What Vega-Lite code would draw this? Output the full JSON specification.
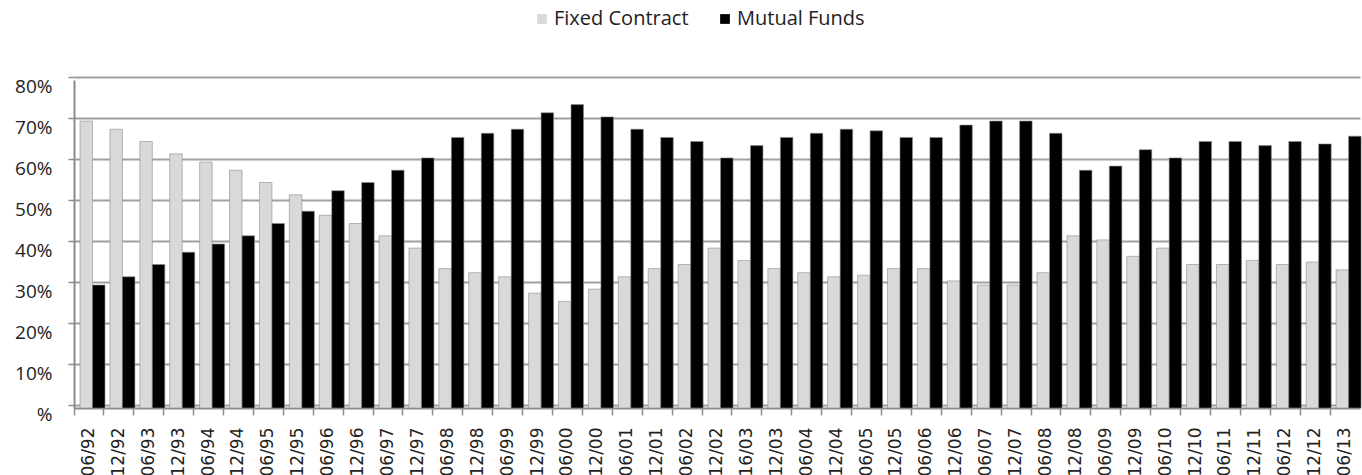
{
  "$schema": "https://vega.github.io/schema/vega-lite/v6.json",
  "autosize": {"type": "none"},
  "width": 1286,
  "height": 328,
  "padding": {"left": 74, "top": 80, "right": 2, "bottom": 67},
  "background": "white",
  "config": {"view": {"stroke": null}},
  "data": {"values": [
    {"period":"06/92","series":"Fixed Contract","share":70},{"period":"06/92","series":"Mutual Funds","share":30},
    {"period":"12/92","series":"Fixed Contract","share":68},{"period":"12/92","series":"Mutual Funds","share":32},
    {"period":"06/93","series":"Fixed Contract","share":65},{"period":"06/93","series":"Mutual Funds","share":35},
    {"period":"12/93","series":"Fixed Contract","share":62},{"period":"12/93","series":"Mutual Funds","share":38},
    {"period":"06/94","series":"Fixed Contract","share":60},{"period":"06/94","series":"Mutual Funds","share":40},
    {"period":"12/94","series":"Fixed Contract","share":58},{"period":"12/94","series":"Mutual Funds","share":42},
    {"period":"06/95","series":"Fixed Contract","share":55},{"period":"06/95","series":"Mutual Funds","share":45},
    {"period":"12/95","series":"Fixed Contract","share":52},{"period":"12/95","series":"Mutual Funds","share":48},
    {"period":"06/96","series":"Fixed Contract","share":47},{"period":"06/96","series":"Mutual Funds","share":53},
    {"period":"12/96","series":"Fixed Contract","share":45},{"period":"12/96","series":"Mutual Funds","share":55},
    {"period":"06/97","series":"Fixed Contract","share":42},{"period":"06/97","series":"Mutual Funds","share":58},
    {"period":"12/97","series":"Fixed Contract","share":39},{"period":"12/97","series":"Mutual Funds","share":61},
    {"period":"06/98","series":"Fixed Contract","share":34},{"period":"06/98","series":"Mutual Funds","share":66},
    {"period":"12/98","series":"Fixed Contract","share":33},{"period":"12/98","series":"Mutual Funds","share":67},
    {"period":"06/99","series":"Fixed Contract","share":32},{"period":"06/99","series":"Mutual Funds","share":68},
    {"period":"12/99","series":"Fixed Contract","share":28},{"period":"12/99","series":"Mutual Funds","share":72},
    {"period":"06/00","series":"Fixed Contract","share":26},{"period":"06/00","series":"Mutual Funds","share":74},
    {"period":"12/00","series":"Fixed Contract","share":29},{"period":"12/00","series":"Mutual Funds","share":71},
    {"period":"06/01","series":"Fixed Contract","share":32},{"period":"06/01","series":"Mutual Funds","share":68},
    {"period":"12/01","series":"Fixed Contract","share":34},{"period":"12/01","series":"Mutual Funds","share":66},
    {"period":"06/02","series":"Fixed Contract","share":35},{"period":"06/02","series":"Mutual Funds","share":65},
    {"period":"12/02","series":"Fixed Contract","share":39},{"period":"12/02","series":"Mutual Funds","share":61},
    {"period":"16/03","series":"Fixed Contract","share":36},{"period":"16/03","series":"Mutual Funds","share":64},
    {"period":"12/03","series":"Fixed Contract","share":34},{"period":"12/03","series":"Mutual Funds","share":66},
    {"period":"06/04","series":"Fixed Contract","share":33},{"period":"06/04","series":"Mutual Funds","share":67},
    {"period":"12/04","series":"Fixed Contract","share":32},{"period":"12/04","series":"Mutual Funds","share":68},
    {"period":"06/05","series":"Fixed Contract","share":32.4},{"period":"06/05","series":"Mutual Funds","share":67.6},
    {"period":"12/05","series":"Fixed Contract","share":34},{"period":"12/05","series":"Mutual Funds","share":66},
    {"period":"06/06","series":"Fixed Contract","share":34},{"period":"06/06","series":"Mutual Funds","share":66},
    {"period":"12/06","series":"Fixed Contract","share":31},{"period":"12/06","series":"Mutual Funds","share":69},
    {"period":"06/07","series":"Fixed Contract","share":30},{"period":"06/07","series":"Mutual Funds","share":70},
    {"period":"12/07","series":"Fixed Contract","share":30},{"period":"12/07","series":"Mutual Funds","share":70},
    {"period":"06/08","series":"Fixed Contract","share":33},{"period":"06/08","series":"Mutual Funds","share":67},
    {"period":"12/08","series":"Fixed Contract","share":42},{"period":"12/08","series":"Mutual Funds","share":58},
    {"period":"06/09","series":"Fixed Contract","share":41},{"period":"06/09","series":"Mutual Funds","share":59},
    {"period":"12/09","series":"Fixed Contract","share":37},{"period":"12/09","series":"Mutual Funds","share":63},
    {"period":"06/10","series":"Fixed Contract","share":39},{"period":"06/10","series":"Mutual Funds","share":61},
    {"period":"12/10","series":"Fixed Contract","share":35},{"period":"12/10","series":"Mutual Funds","share":65},
    {"period":"06/11","series":"Fixed Contract","share":35},{"period":"06/11","series":"Mutual Funds","share":65},
    {"period":"12/11","series":"Fixed Contract","share":36},{"period":"12/11","series":"Mutual Funds","share":64},
    {"period":"06/12","series":"Fixed Contract","share":35},{"period":"06/12","series":"Mutual Funds","share":65},
    {"period":"12/12","series":"Fixed Contract","share":35.6},{"period":"12/12","series":"Mutual Funds","share":64.4},
    {"period":"06/13","series":"Fixed Contract","share":33.7},{"period":"06/13","series":"Mutual Funds","share":66.3}
  ]},
  "mark": {"type": "bar", "strokeWidth": 1, "stroke": "#8c8c8c", "strokeOpacity": 0.6},
  "encoding": {
    "x": {
      "field": "period", "type": "nominal", "sort": null, "title": null,
      "scale": {"paddingInner": 0, "paddingOuter": 0},
      "axis": {
        "bandPosition": 0, "labelAngle": -90, "labelOverlap": false,
        "labelFont": "DejaVu Sans", "labelFontSize": 17, "labelColor": "#222",
        "labelPadding": 12, "tickSize": 7, "tickColor": "#8c8c8c", "tickWidth": 1.5,
        "domainColor": "#8c8c8c", "domainWidth": 2, "grid": false
      }
    },
    "xOffset": {"field": "series", "type": "nominal", "sort": ["Fixed Contract", "Mutual Funds"],
      "scale": {"range": [6, 31], "paddingInner": 0, "paddingOuter": 0}},
    "y": {
      "field": "share", "type": "quantitative", "title": null,
      "scale": {"domain": [0, 80], "nice": false, "zero": true},
      "axis": {
        "values": [0, 10, 20, 30, 40, 50, 60, 70, 80],
        "labelExpr": "datum.value == 0 ? '%' : datum.value + '%'",
        "labelFont": "Open Sans", "labelFontSize": 19, "labelColor": "#222",
        "labelPadding": 16, "tickSize": 6, "tickColor": "#8c8c8c", "tickWidth": 1.5,
        "tickOffset": -3, "labelOffset": 9,
        "domainColor": "#8c8c8c", "domainWidth": 2,
        "grid": true, "gridColor": "#a0a0a0", "gridWidth": 2
      }
    },
    "color": {
      "field": "series", "type": "nominal",
      "scale": {"domain": ["Fixed Contract", "Mutual Funds"], "range": ["#d9d9d9", "#000000"]},
      "legend": {
        "title": null, "orient": "none", "direction": "horizontal",
        "legendX": 458, "legendY": -71,
        "symbolType": "square", "symbolSize": 95, "symbolStrokeWidth": 0,
        "labelFont": "Open Sans", "labelFontSize": 20, "labelColor": "#222",
        "labelOffset": 2, "columnPadding": 26
      }
    }
  }
}
